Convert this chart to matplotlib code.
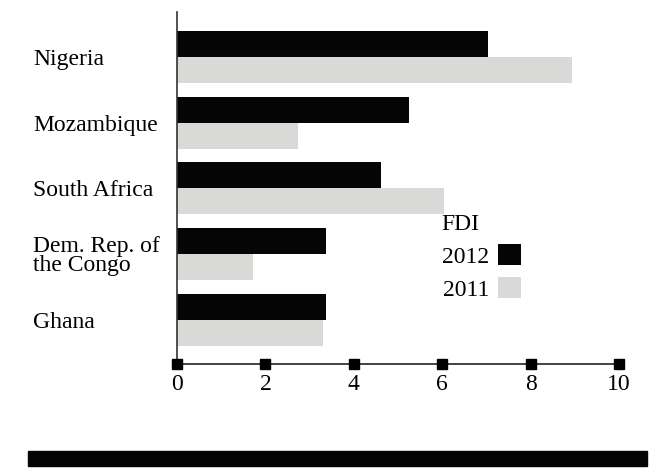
#!/usr/bin/env python3

import matplotlib
matplotlib.use('Agg')
import matplotlib.pyplot as plt
import matplotlib.patches as mpatches
import numpy as np

countries = ['Nigeria', 'Mozambique', 'South Africa', 'Dem. Rep. of\nthe Congo', 'Ghana']
fdi_2012 = [7.03, 5.25, 4.62, 3.36, 3.36]
fdi_2011 = [8.94, 2.74, 6.04, 1.71, 3.30]
xticks = [0, 2, 4, 6, 8, 10]

plt.rcParams['font.family'] = ['Liberation Serif', 'DejaVu Serif']

W, H = 661, 471
fig = plt.figure(figsize=(W / 100, H / 100), dpi=100)
ax = fig.add_axes([177 / W, 1 - 364 / H, (619 - 177) / W, (364 - 12) / H])

y = np.arange(len(countries))
bh = 0.395
b12 = ax.barh(y - bh / 2, fdi_2012, height=bh, color='#050505', label='2012')
b11 = ax.barh(y + bh / 2, fdi_2011, height=bh, color='#d9d9d7', label='2011')

ax.set_xlim(0, 10)
ax.set_ylim(4.67, -0.68)

for s in ['top', 'right']:
    ax.spines[s].set_visible(False)
ax.spines['left'].set_color('#333333')
ax.spines['left'].set_linewidth(1.2)
ax.spines['bottom'].set_color('#222222')
ax.spines['bottom'].set_linewidth(1.2)

ax.set_xticks(xticks)
ax.set_xticklabels([str(t) for t in xticks], fontsize=17)
ax.tick_params(axis='x', length=0, pad=7)
ax.plot(xticks, [4.67] * len(xticks), 's', color='black', markersize=6.5, clip_on=False, zorder=5)

ax.set_yticks(y)
ax.set_yticklabels(countries, fontsize=17, ha='left', linespacing=0.9)
ax.tick_params(axis='y', length=0, pad=144 * 0.72)

leg = ax.legend(handles=[b12, b11], title='FDI', loc='upper left',
                bbox_to_anchor=(430 / W, 1 - 202 / H), bbox_transform=fig.transFigure,
                frameon=False, markerfirst=False, fontsize=17, title_fontsize=17,
                handlelength=0.95, handleheight=1.0, handletextpad=0.4,
                labelspacing=0.4, borderpad=0, alignment='left')

fig.patches.append(mpatches.Rectangle((28 / W, 1 - 466 / H), (647 - 28) / W, 15 / H,
                                      transform=fig.transFigure, color='#050505'))

plt.savefig('out.png', dpi=100)
plt.close()
